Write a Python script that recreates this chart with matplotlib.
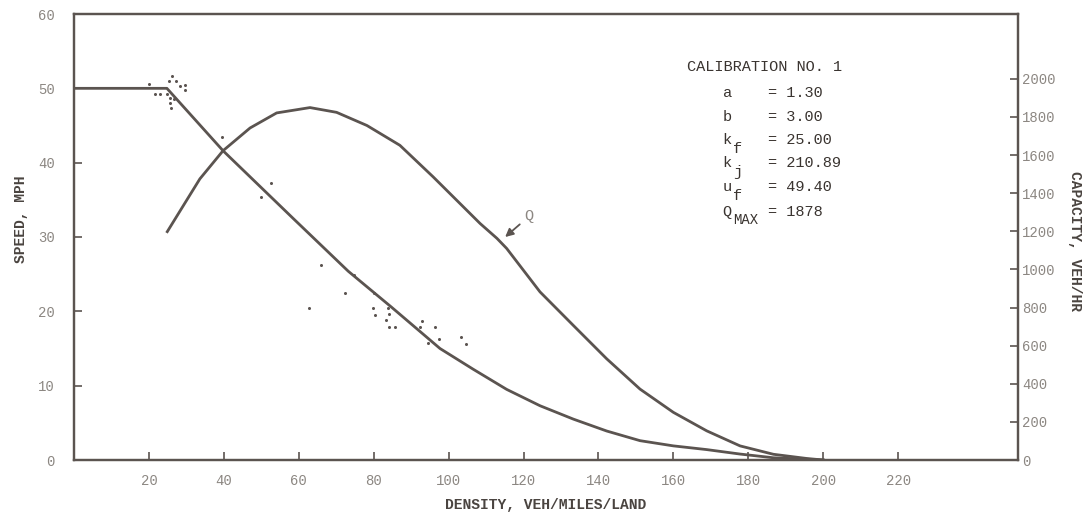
import matplotlib
matplotlib.use("Agg")
import matplotlib.pyplot as plt

# speed-density curve
density_speed = [0, 24.8, 39.8, 58.5, 73.2, 84.9, 97.7, 106.6, 115.5, 124.4, 133.3,
                 142.2, 151.1, 160.0, 168.9, 177.8, 186.7, 195.6, 200.0]
speed_curve = [50.0, 50.0, 41.6, 32.5, 25.4, 20.5, 15.0, 12.2, 9.5, 7.3, 5.5,
               3.9, 2.6, 1.9, 1.4, 0.8, 0.3, 0.1, 0.0]

# flow (capacity) curve, right axis
density_q = [24.9, 29.2, 33.6, 39.8, 47.0, 54.1, 63.0, 70.1, 78.2, 87.0, 95.9,
             108.4, 112.9, 115.5, 124.4, 133.3, 142.2, 151.1, 160.0, 168.9,
             177.8, 186.7, 195.6, 200.0]
capacity_curve = [1198, 1335, 1475, 1623, 1742, 1821, 1849, 1824, 1755, 1651, 1485,
                  1241, 1163, 1110, 882, 706, 531, 372, 250, 153,
                  74, 30, 8, 0]

# observed points
obs_density = [20.0, 21.6, 23.0, 24.7, 25.4, 26.2, 27.2, 28.3, 29.5, 29.5, 25.6,
               26.8, 25.6, 25.8, 39.6, 49.8, 52.5, 62.6, 65.9, 72.4, 74.8, 80.1,
               79.9, 80.4, 83.2, 83.7, 84.0, 84.2, 85.7, 92.4, 93.0, 96.4, 97.5,
               94.6, 103.3, 104.6]
obs_speed = [50.6, 49.3, 49.3, 49.2, 51.0, 51.6, 51.0, 50.3, 50.4, 49.8, 48.7,
             48.6, 48.0, 47.4, 43.4, 35.4, 37.2, 20.5, 26.2, 22.5, 24.9, 22.5,
             20.5, 19.5, 18.8, 20.4, 19.7, 17.9, 17.9, 17.9, 18.7, 17.9, 16.3,
             15.8, 16.6, 15.6]

x_ticks = [20, 40, 60, 80, 100, 120, 140, 160, 180, 200, 220]
speed_ticks = [0, 10, 20, 30, 40, 50, 60]
capacity_ticks = list(range(0, 2001, 200))

calibration = [("a", None, "= 1.30"), ("b", None, "= 3.00"), ("k", "f", "= 25.00"),
               ("k", "j", "= 210.89"), ("u", "f", "= 49.40"), ("Q", "MAX", "= 1878")]

ink = '#5b5450'
grey = '#8c8782'
mono = 'Liberation Mono'

fig = plt.figure(figsize=(10.89, 5.29), dpi=100)
ax = fig.add_axes([74 / 1089, 69 / 529, 944 / 1089, 446 / 529])

ax.plot(density_speed, speed_curve, color=ink, lw=2.0, solid_joinstyle='round')
ax.plot(obs_density, obs_speed, 'o', color=ink, ms=2.2, mew=0)

ax.set_xlim(0, 252)
ax.set_ylim(0, 60)
ax.set_xticks(x_ticks)
ax.set_yticks(speed_ticks)

ax2 = ax.twinx()
ax2.plot(density_q, capacity_curve, color=ink, lw=2.0, solid_joinstyle='round')
ax2.set_ylim(0, 2340)
ax2.set_yticks(capacity_ticks)

for a in (ax, ax2):
    for s in a.spines.values():
        s.set_color(ink)
        s.set_linewidth(1.6)
    a.tick_params(direction='in', length=6, width=1.2, color=ink, labelcolor=grey,
                  labelsize=10)
    for lab in a.get_xticklabels() + a.get_yticklabels():
        lab.set_family(mono)

ax.tick_params(axis='x', pad=10)
ax.tick_params(axis='y', pad=14)
ax2.tick_params(axis='y', pad=3)

ax.set_xlabel("DENSITY, VEH/MILES/LAND", family=mono, fontsize=10.5,
              weight='bold', color='#4a4440')
ax.xaxis.set_label_coords(0.5, -0.085)
ax.set_ylabel("SPEED, MPH", family=mono, fontsize=10.5, weight='bold', color='#4a4440')
ax.yaxis.set_label_coords(-0.049, 0.54)
ax2.set_ylabel("CAPACITY, VEH/HR", family=mono, fontsize=10.5, weight='bold',
               color='#4a4440', rotation=270, va='center')
ax2.yaxis.set_label_coords(1.060, 0.49)

# calibration block
ax.text(0.649, 0.882, "CALIBRATION NO. 1", transform=ax.transAxes, family=mono,
        fontsize=11, color='#3a3430', va='center', ha='left')
rows_y = [0.822, 0.770, 0.717, 0.665, 0.613, 0.557]
for (sym, sub, val), fy in zip(calibration, rows_y):
    ax.text(0.687, fy, sym, transform=ax.transAxes, family=mono, fontsize=11,
            color='#3a3430', va='center', ha='left')
    if sub:
        ax.text(0.698, fy - 0.02, sub, transform=ax.transAxes, family=mono,
                fontsize=10 if sub == "MAX" else 11, color='#3a3430',
                va='center', ha='left')
    ax.text(0.735, fy, val, transform=ax.transAxes, family=mono, fontsize=11,
            color='#3a3430', va='center', ha='left')

ax.annotate("Q", xy=(115.1, 30.0), xytext=(120.3, 32.8), family=mono, fontsize=11,
            color=grey, va='center', ha='left',
            arrowprops=dict(arrowstyle='-|>', color=ink, lw=1.3, mutation_scale=12,
                            shrinkA=2, shrinkB=0))

fig.savefig('out.png', dpi=100, facecolor='white')
